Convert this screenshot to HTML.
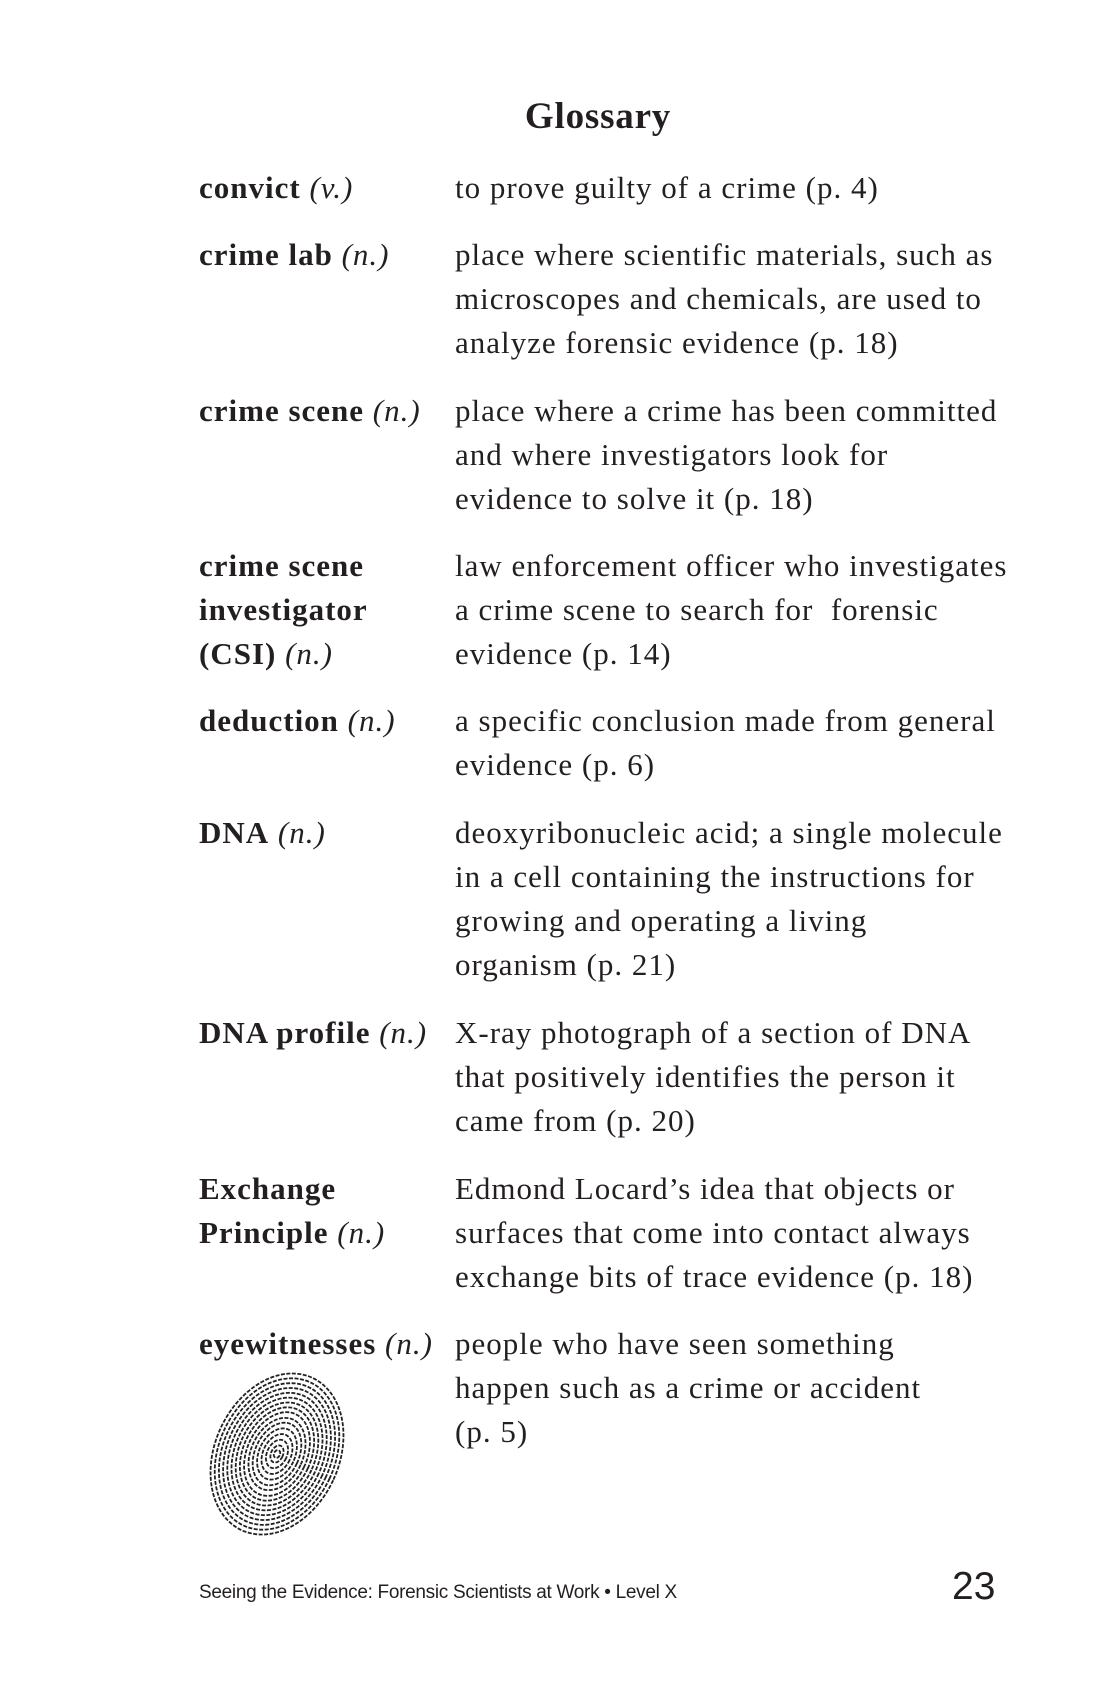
<!DOCTYPE html>
<html><head><meta charset="utf-8"><style>
body{margin:0;width:1100px;height:1700px;background:#fff;position:relative;overflow:hidden;color:#231f20}
.t{position:absolute;font-family:"Liberation Serif",serif;font-size:31px;line-height:44px;white-space:nowrap;letter-spacing:1px}
.term{left:199px}
.def{left:455px}
b{font-weight:bold}
i{font-style:italic}
#title{position:absolute;left:0;width:1196px;text-align:center;top:95px;font-family:"Liberation Serif",serif;font-weight:bold;font-size:37px;letter-spacing:0.8px}
#footer{position:absolute;left:199px;top:1582px;font-family:"Liberation Sans Narrow","Liberation Sans",sans-serif;font-stretch:condensed;font-size:19px;letter-spacing:-0.3px}
#pnum{position:absolute;left:952px;top:1565px;font-family:"Liberation Sans",sans-serif;font-size:39px}
</style></head><body>
<div id="title">Glossary</div>

<div class="t term" style="top:166px"><b>convict</b> <i>(v.)</i></div>
<div class="t def" style="top:166px">to prove guilty of a crime (p. 4)</div>

<div class="t term" style="top:233px"><b>crime lab</b> <i>(n.)</i></div>
<div class="t def" style="top:233px">place where scientific materials, such as<br>microscopes and chemicals, are used to<br>analyze forensic evidence (p. 18)</div>

<div class="t term" style="top:389px"><b>crime scene</b> <i>(n.)</i></div>
<div class="t def" style="top:389px">place where a crime has been committed<br>and where investigators look for<br>evidence to solve it (p. 18)</div>

<div class="t term" style="top:544px"><b>crime scene<br>investigator<br>(CSI)</b> <i>(n.)</i></div>
<div class="t def" style="top:544px">law enforcement officer who investigates<br>a crime scene to search for &nbsp;forensic<br>evidence (p. 14)</div>

<div class="t term" style="top:699px"><b>deduction</b> <i>(n.)</i></div>
<div class="t def" style="top:699px">a specific conclusion made from general<br>evidence (p. 6)</div>

<div class="t term" style="top:811px"><b>DNA</b> <i>(n.)</i></div>
<div class="t def" style="top:811px">deoxyribonucleic acid; a single molecule<br>in a cell containing the instructions for<br>growing and operating a living<br>organism (p. 21)</div>

<div class="t term" style="top:1011px"><b>DNA profile</b> <i>(n.)</i></div>
<div class="t def" style="top:1011px">X-ray photograph of a section of DNA<br>that positively identifies the person it<br>came from (p. 20)</div>

<div class="t term" style="top:1167px"><b>Exchange<br>Principle</b> <i>(n.)</i></div>
<div class="t def" style="top:1167px">Edmond Locard’s idea that objects or<br>surfaces that come into contact always<br>exchange bits of trace evidence (p. 18)</div>

<div class="t term" style="top:1322px"><b>eyewitnesses</b> <i>(n.)</i></div>
<div class="t def" style="top:1322px">people who have seen something<br>happen such as a crime or accident<br>(p. 5)</div>

<svg style="position:absolute;left:195px;top:1362px" width="160" height="190">
<g transform="translate(82,92) rotate(25)" fill="none" stroke="#222" stroke-width="1.8" stroke-dasharray="4 1.5">
<ellipse rx="62" ry="84"/><ellipse rx="58" ry="79"/><ellipse rx="54" ry="74"/><ellipse rx="50" ry="69"/><ellipse rx="46" ry="64"/><ellipse rx="42" ry="59"/><ellipse rx="38" ry="54"/><ellipse rx="34" ry="49"/><ellipse rx="30" ry="44"/><ellipse rx="26" ry="38"/><ellipse rx="22" ry="33"/><ellipse rx="18" ry="27"/><ellipse rx="14" ry="21"/><ellipse rx="10" ry="15"/><ellipse rx="6" ry="9"/><ellipse rx="3" ry="4"/>
</g></svg>

<div id="footer">Seeing the Evidence: Forensic Scientists at Work • Level X</div>
<div id="pnum">23</div>
</body></html>
